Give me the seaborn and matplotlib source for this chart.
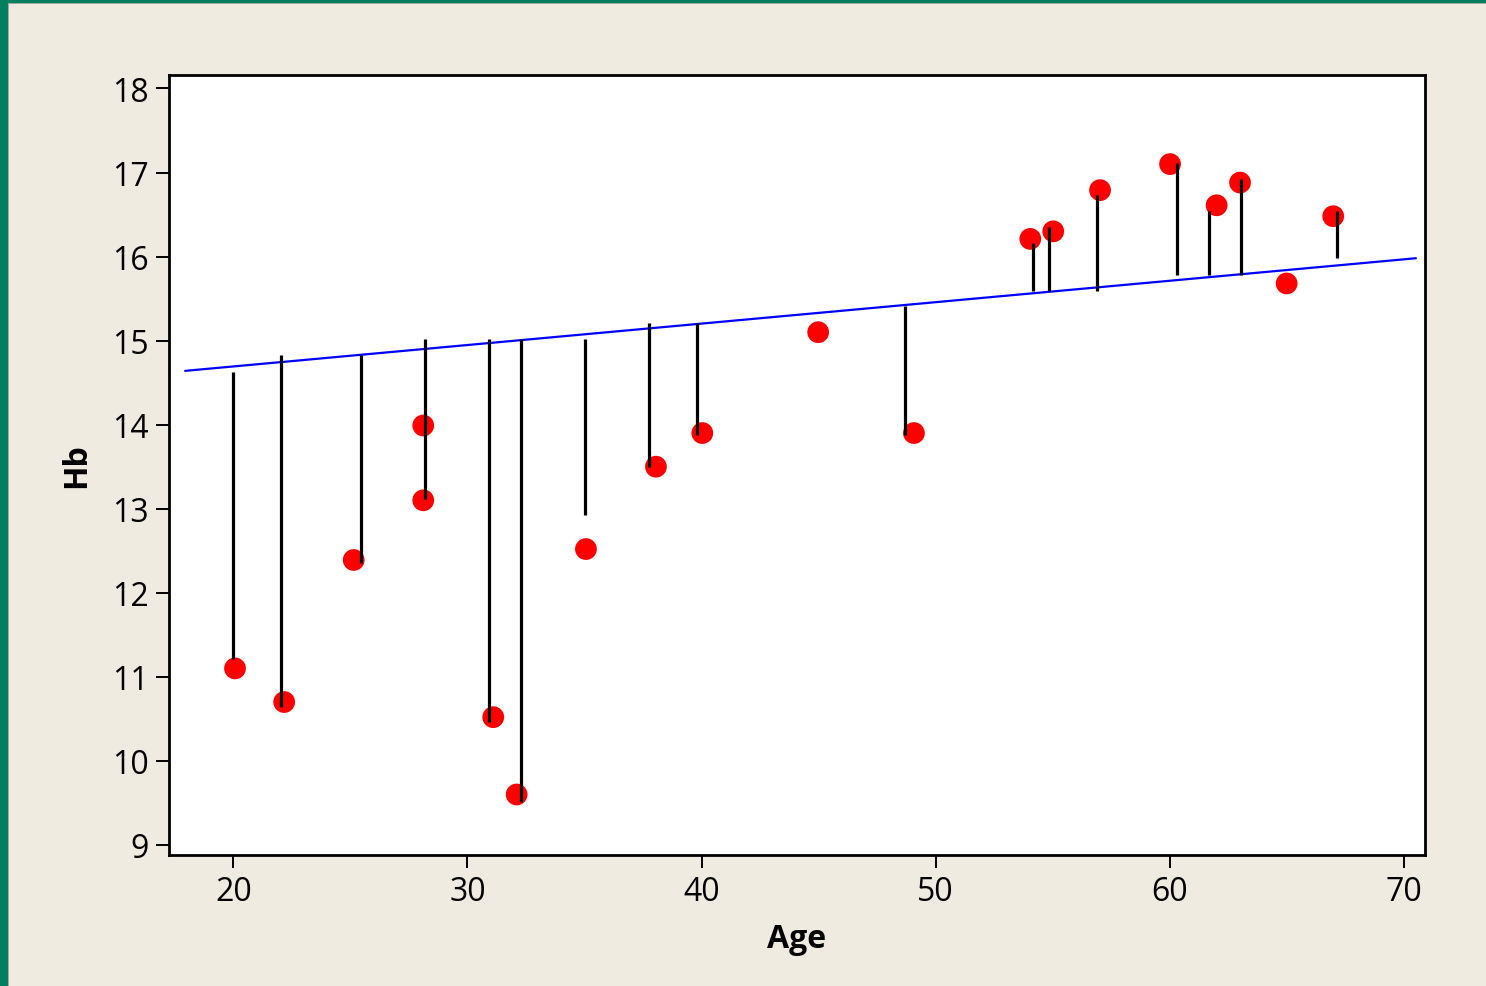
import matplotlib
matplotlib.use("Agg")
import matplotlib.pyplot as plt
import seaborn as sns
import pandas as pd
from matplotlib.patches import Rectangle

# ---- data ----
age = [20.07, 22.17, 25.14, 28.11, 28.11, 31.10, 32.10, 35.06, 38.05, 40.03,
       44.98, 49.07, 54.04, 55.02, 57.02, 60.01, 62.00, 63.00, 64.99, 66.98]
hb = [11.10, 10.70, 12.39, 13.99, 13.10, 10.52, 9.60, 12.52, 13.50, 13.90,
      15.10, 13.90, 16.21, 16.30, 16.79, 17.10, 16.61, 16.88, 15.68, 16.48]

# residual segments as drawn in the reference
res_x = [20.00, 22.05, 25.45, 28.20, 30.93, 32.30, 35.03, 37.77, 39.82, 48.70,
         54.17, 54.85, 56.90, 60.32, 61.68, 63.05, 67.15]
res_top = [14.63, 14.83, 14.83, 15.02, 15.02, 15.02, 15.02, 15.21, 15.21, 15.41,
           16.16, 16.35, 16.73, 17.11, 16.54, 16.92, 16.54]
res_bot = [11.21, 10.64, 12.36, 13.12, 10.46, 9.51, 12.93, 13.50, 13.88, 13.88,
           15.59, 15.59, 15.59, 15.78, 15.78, 15.78, 15.98]

# fitted line end points
fit_x = [17.94, 70.51]
fit_y = [14.64, 15.98]

x_ticks = [20, 30, 40, 50, 60, 70]
y_ticks = [9, 10, 11, 12, 13, 14, 15, 16, 17, 18]

BG = "#EFEBE1"
sns.set_style("ticks")
plt.rcParams["font.family"] = ["Open Sans", "DejaVu Sans"]

fig = plt.figure(figsize=(14.86, 9.87), dpi=100, facecolor=BG)
ax = fig.add_axes([169 / 1486, 1 - 856 / 987, (1425 - 169) / 1486, (856 - 76) / 987])
ax.set_facecolor("white")

# green frame on left and top edges
fig.patches.append(Rectangle((0, 0), 8 / 1486, 1, transform=fig.transFigure,
                             facecolor="#00805F", edgecolor="none", zorder=0))
fig.patches.append(Rectangle((0, 1 - 4 / 987), 1, 4 / 987, transform=fig.transFigure,
                             facecolor="#00805F", edgecolor="none", zorder=0))
fig.patches.append(Rectangle((8 / 1486, 0), 1.2 / 1486, 1 - 4 / 987, transform=fig.transFigure,
                             facecolor="#A9A79F", edgecolor="none", zorder=0))
fig.patches.append(Rectangle((8 / 1486, 1 - 5.2 / 987), 1, 1.2 / 987, transform=fig.transFigure,
                             facecolor="#A9A79F", edgecolor="none", zorder=0))

df_pts = pd.DataFrame({"Age": age, "Hb": hb})
df_fit = pd.DataFrame({"Age": fit_x, "Hb": fit_y})

sns.lineplot(data=df_fit, x="Age", y="Hb", ax=ax, color="#0000FF", linewidth=1.6,
             zorder=2)
sns.scatterplot(data=df_pts, x="Age", y="Hb", ax=ax, color="#FF0000", s=245,
                edgecolor="none", linewidth=0, zorder=3)
ax.vlines(res_x, res_bot, res_top, colors="black", linewidth=2.3, zorder=4)

ax.set_xlim(17.25, 70.90)
ax.set_ylim(8.88, 18.16)
ax.set_xticks(x_ticks)
ax.set_yticks(y_ticks)
ax.tick_params(axis="both", labelsize=23, length=9.5, width=1.4, color="black",
               pad=5, labelcolor="black")
for s in ax.spines.values():
    s.set_linewidth(2.0)
    s.set_color("black")

ax.set_xlabel("Age", fontsize=23, fontweight="bold", labelpad=10, color="black")
ax.set_ylabel("Hb", fontsize=23, fontweight="bold", labelpad=14, color="black")

fig.savefig("out.png", dpi=100, facecolor=BG)
